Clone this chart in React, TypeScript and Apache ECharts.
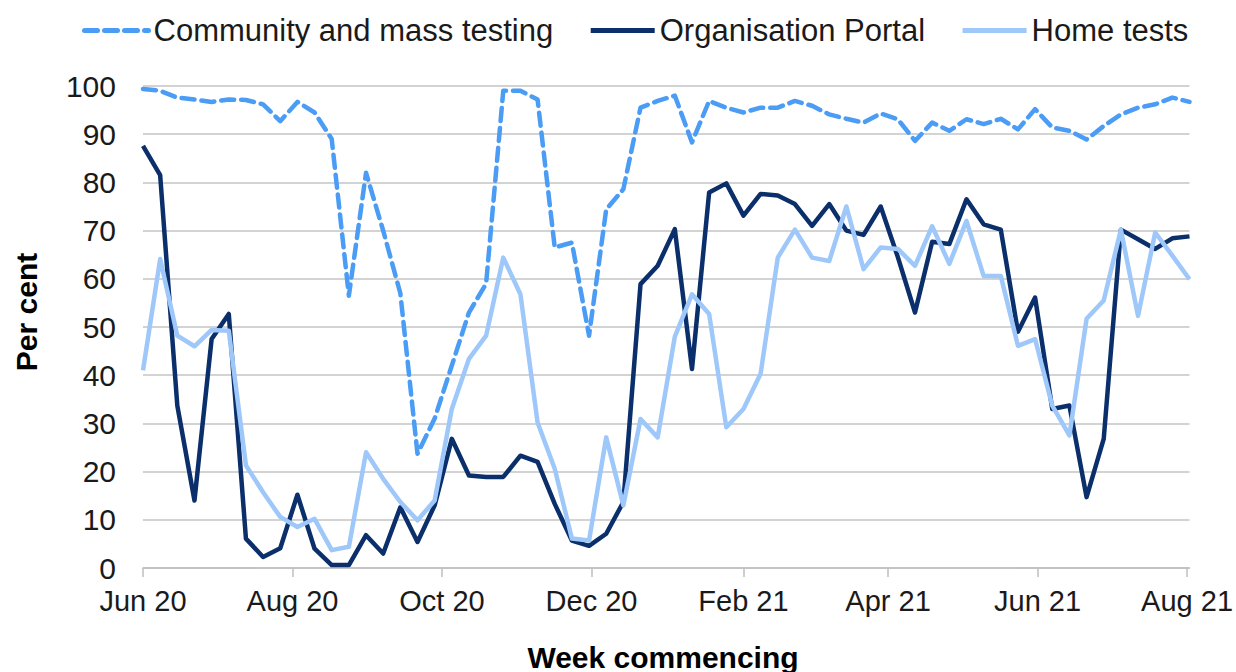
import React, { useEffect, useRef } from "react";
import * as echarts from "echarts";

const weeks = [
  "2020-06-01", "2020-06-08", "2020-06-15", "2020-06-22", "2020-06-29",
  "2020-07-06", "2020-07-13", "2020-07-20", "2020-07-27",
  "2020-08-03", "2020-08-10", "2020-08-17", "2020-08-24", "2020-08-31",
  "2020-09-07", "2020-09-14", "2020-09-21", "2020-09-28",
  "2020-10-05", "2020-10-12", "2020-10-19", "2020-10-26",
  "2020-11-02", "2020-11-09", "2020-11-16", "2020-11-23", "2020-11-30",
  "2020-12-07", "2020-12-14", "2020-12-21", "2020-12-28",
  "2021-01-04", "2021-01-11", "2021-01-18", "2021-01-25",
  "2021-02-01", "2021-02-08", "2021-02-15", "2021-02-22",
  "2021-03-01", "2021-03-08", "2021-03-15", "2021-03-22", "2021-03-29",
  "2021-04-05", "2021-04-12", "2021-04-19", "2021-04-26",
  "2021-05-03", "2021-05-10", "2021-05-17", "2021-05-24", "2021-05-31",
  "2021-06-07", "2021-06-14", "2021-06-21", "2021-06-28",
  "2021-07-05", "2021-07-12", "2021-07-19", "2021-07-26",
  "2021-08-02",
];

const community = [
  99.4, 99.0, 97.6, 97.2, 96.7, 97.2, 97.1, 96.2, 92.7, 96.7,
  94.5, 89.0, 56.5, 82.0, 70.0, 57.0, 23.7, 31.0, 42.0, 53.0,
  59.0, 99.0, 99.0, 97.2, 66.5, 67.5, 48.2, 74.4, 78.6, 95.5,
  96.9, 98.0, 88.3, 96.9, 95.5, 94.5, 95.5, 95.5, 96.9, 95.9,
  94.1, 93.2, 92.4, 94.3, 93.1, 88.6, 92.4, 90.7, 93.1, 92.1,
  93.2, 91.0, 95.2, 91.4, 90.7, 88.9, 91.7, 94.1, 95.5, 96.2,
  97.6, 96.7,
];

const portal = [
  87.6, 81.5, 33.7, 14.0, 47.5, 52.7, 6.1, 2.3, 4.1, 15.2,
  4.0, 0.6, 0.6, 6.8, 3.0, 12.6, 5.4, 13.0, 26.8, 19.2,
  18.9, 18.9, 23.3, 22.0, 13.3, 5.7, 4.6, 7.1, 13.7, 58.9,
  62.7, 70.3, 41.3, 77.9, 79.8, 73.1, 77.6, 77.3, 75.5, 71.0,
  75.5, 70.0, 69.1, 75.0, 64.5, 53.0, 67.7, 67.2, 76.5, 71.3,
  70.2, 49.0, 56.1, 33.0, 33.7, 14.7, 26.8, 70.2, 68.2, 66.2,
  68.4, 68.8,
];

const homeTests = [
  41.0, 64.1, 48.2, 46.0, 49.4, 49.2, 21.3, 15.7, 10.6, 8.5,
  10.2, 3.7, 4.4, 24.0, 18.5, 13.7, 9.9, 14.0, 33.0, 43.4,
  48.2, 64.4, 56.8, 30.2, 20.6, 6.1, 5.7, 27.1, 13.0, 30.9,
  27.1, 48.0, 56.8, 52.7, 29.2, 33.0, 40.3, 64.4, 70.2, 64.4,
  63.7, 75.0, 62.0, 66.5, 66.2, 62.7, 70.9, 63.1, 72.0, 60.6,
  60.6, 46.1, 47.5, 33.7, 27.5, 51.7, 55.5, 70.2, 52.3, 69.6,
  64.8, 59.9,
];

const tickDates = [
  "2020-06-01", "2020-08-01", "2020-10-01", "2020-12-01",
  "2021-02-01", "2021-04-01", "2021-06-01", "2021-08-01",
];
const tickLabels = ["Jun 20", "Aug 20", "Oct 20", "Dec 20", "Feb 21", "Apr 21", "Jun 21", "Aug 21"];

const seriesNames = ["Community and mass testing", "Organisation Portal", "Home tests"];

const DAY = 86400000;
const toTs = (s: string) => {
  const [y, m, d] = s.split("-").map(Number);
  return Date.UTC(y, m - 1, d);
};
const ORIGIN = toTs(weeks[0]);
// day offset from the first week, used as the x value
const toDay = (s: string) => Math.round((toTs(s) - ORIGIN) / DAY);

const FONT = "'Liberation Sans', Arial, Helvetica, sans-serif";

export default function App() {
  const ref = useRef<HTMLDivElement>(null);

  useEffect(() => {
    if (!ref.current) return;
    const chart = echarts.init(ref.current, undefined, { renderer: "svg" });
    const tickDays = tickDates.map(toDay);
    const fmt = (v: number) => {
      let best = 0;
      let bd = Infinity;
      tickDays.forEach((t, i) => {
        const d = Math.abs(t - v);
        if (d < bd) {
          bd = d;
          best = i;
        }
      });
      return tickLabels[best];
    };
    const mk = (vals: number[]) => weeks.map((w, i) => [toDay(w), vals[i]]);

    chart.setOption({
      animation: false,
      textStyle: { fontFamily: FONT },
      legend: {
        left: 77,
        top: 10,
        itemWidth: 64,
        itemHeight: 14,
        itemGap: 35,
        itemStyle: { opacity: 0 },
        lineStyle: { width: 5 },
        textStyle: { fontSize: 31, color: "#1a1a1a", fontFamily: FONT },
        data: seriesNames,
      },
      grid: { left: 143, right: 40, top: 86, bottom: 104 },
      xAxis: {
        type: "value",
        min: 0,
        max: toDay(weeks[weeks.length - 1]),
        axisLine: { lineStyle: { color: "#bfbfbf", width: 1.5 } },
        axisTick: {
          show: true,
          length: 9,
          customValues: tickDays,
          lineStyle: { color: "#bfbfbf", width: 1.5 },
        },
        axisLabel: {
          customValues: tickDays,
          formatter: (v: number) => fmt(v),
          fontSize: 29,
          color: "#1a1a1a",
          margin: 18,
          fontFamily: FONT,
        },
        splitLine: { show: false },
      },
      yAxis: {
        type: "value",
        min: 0,
        max: 100,
        interval: 10,
        axisLine: { show: false },
        axisTick: { show: false },
        axisLabel: { fontSize: 30, color: "#1a1a1a", margin: 27, fontFamily: FONT },
        splitLine: { lineStyle: { color: "#c4c4c4", width: 1.5 } },
      },
      graphic: [
        {
          type: "text",
          x: 26,
          y: 312,
          rotation: Math.PI / 2,
          style: {
            text: "Per cent",
            fontSize: 30,
            fontWeight: "bold",
            fontFamily: FONT,
            fill: "#000",
            textAlign: "center",
            textVerticalAlign: "middle",
          },
        },
        {
          type: "text",
          x: 663,
          y: 657,
          style: {
            text: "Week commencing",
            fontSize: 30,
            fontWeight: "bold",
            fontFamily: FONT,
            fill: "#000",
            textAlign: "center",
            textVerticalAlign: "middle",
          },
        },
      ],
      series: [
        {
          name: seriesNames[0],
          type: "line",
          symbol: "none",
          data: mk(community),
          lineStyle: { color: "#4a9cf5", width: 4.5, type: [13, 7], cap: "round", join: "round" },
          itemStyle: { color: "#4a9cf5" },
        },
        {
          name: seriesNames[1],
          type: "line",
          symbol: "none",
          data: mk(portal),
          lineStyle: { color: "#0a2f6b", width: 4.5, join: "round" },
          itemStyle: { color: "#0a2f6b" },
        },
        {
          name: seriesNames[2],
          type: "line",
          symbol: "none",
          data: mk(homeTests),
          lineStyle: { color: "#9ec7fa", width: 4.5, join: "round" },
          itemStyle: { color: "#9ec7fa" },
        },
      ],
    });
    return () => chart.dispose();
  }, []);

  return (
    <div
      ref={ref}
      style={{ position: "fixed", left: 0, top: 0, width: 1236, height: 672, background: "#fff" }}
    />
  );
}
